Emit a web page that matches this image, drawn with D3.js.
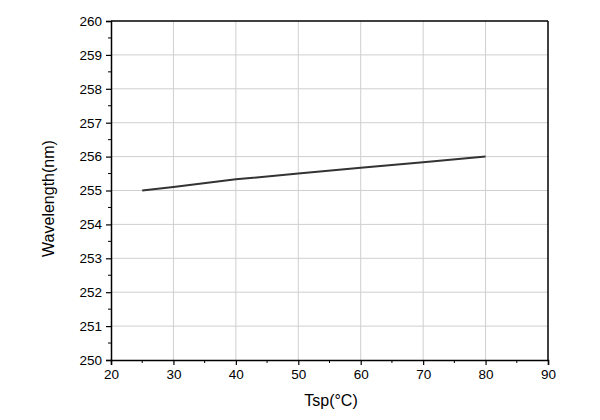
<!DOCTYPE html>
<html><head><meta charset="utf-8">
<script src="https://cdn.jsdelivr.net/npm/d3@7"></script>
<style>body{margin:0;background:#fff}svg{display:block}text{font-family:"Liberation Sans",Arial,sans-serif}</style>
</head><body><svg id="c" width="600" height="420"></svg>
<script>
const temps = [25, 30, 40, 50, 60, 70, 80];
const wavelengths = [255.0, 255.1, 255.33, 255.5, 255.67, 255.83, 256.0];
const xTicks = [20, 30, 40, 50, 60, 70, 80, 90];
const yTicks = [250, 251, 252, 253, 254, 255, 256, 257, 258, 259, 260];
const xTitle = "Tsp(°C)";
const yTitle = "Wavelength(nm)";

const svg = d3.select("#c");
const L = 111, R = 548, T = 21, B = 360;
const x = d3.scaleLinear().domain([20, 90]).range([L, R]);
const y = d3.scaleLinear().domain([250, 260]).range([B, T]);

// grid
svg.append("g").selectAll("line").data(xTicks.slice(1, -1)).join("line")
  .attr("x1", d => x(d)).attr("x2", d => x(d)).attr("y1", T).attr("y2", B)
  .attr("stroke", "#cfcfcf").attr("stroke-width", 1);
svg.append("g").selectAll("line").data(yTicks.slice(1, -1)).join("line")
  .attr("y1", d => y(d)).attr("y2", d => y(d)).attr("x1", L).attr("x2", R)
  .attr("stroke", "#cfcfcf").attr("stroke-width", 1);

// minor ticks
const xMinor = d3.range(25, 90, 10);
const yMinor = d3.range(250.5, 260, 1);

const gx = svg.append("g").attr("transform", `translate(0,${B})`)
  .call(d3.axisBottom(x).tickValues(xTicks).tickSize(5).tickPadding(4).tickFormat(d3.format("d")));
gx.append("g").selectAll("line").data(xMinor).join("line")
  .attr("x1", d => x(d)).attr("x2", d => x(d)).attr("y1", 0).attr("y2", 3).attr("stroke", "#000");

const gy = svg.append("g").attr("transform", `translate(${L},0)`)
  .call(d3.axisLeft(y).tickValues(yTicks).tickSize(5).tickPadding(4).tickFormat(d3.format("d")));
gy.append("g").selectAll("line").data(yMinor).join("line")
  .attr("y1", d => y(d)).attr("y2", d => y(d)).attr("x1", 0).attr("x2", -3).attr("stroke", "#000");

[gx, gy].forEach(g => {
  g.select(".domain").attr("stroke", "#000").attr("stroke-width", 1.5);
  g.selectAll(".tick line").attr("stroke", "#000").attr("stroke-width", 1.2);
  g.selectAll("text").attr("font-size", 13.5).attr("fill", "#000").attr("font-family", '"Liberation Sans",Arial,sans-serif');
});

// top and right frame
svg.append("line").attr("x1", L).attr("x2", R).attr("y1", T).attr("y2", T).attr("stroke", "#000").attr("stroke-width", 1.5);
svg.append("line").attr("x1", R).attr("x2", R).attr("y1", T).attr("y2", B).attr("stroke", "#000").attr("stroke-width", 1.5);

// data line
svg.append("path").datum(temps.map((t, i) => [t, wavelengths[i]]))
  .attr("fill", "none").attr("stroke", "#333").attr("stroke-width", 2)
  .attr("d", d3.line().x(d => x(d[0])).y(d => y(d[1])));

// titles
svg.append("text").attr("x", 331).attr("y", 406).attr("text-anchor", "middle")
  .attr("font-size", 16).text(xTitle);
svg.append("text").attr("transform", `translate(54,${(T + B) / 2 + 8}) rotate(-90)`).attr("text-anchor", "middle")
  .attr("font-size", 16).text(yTitle);
</script></body></html>
